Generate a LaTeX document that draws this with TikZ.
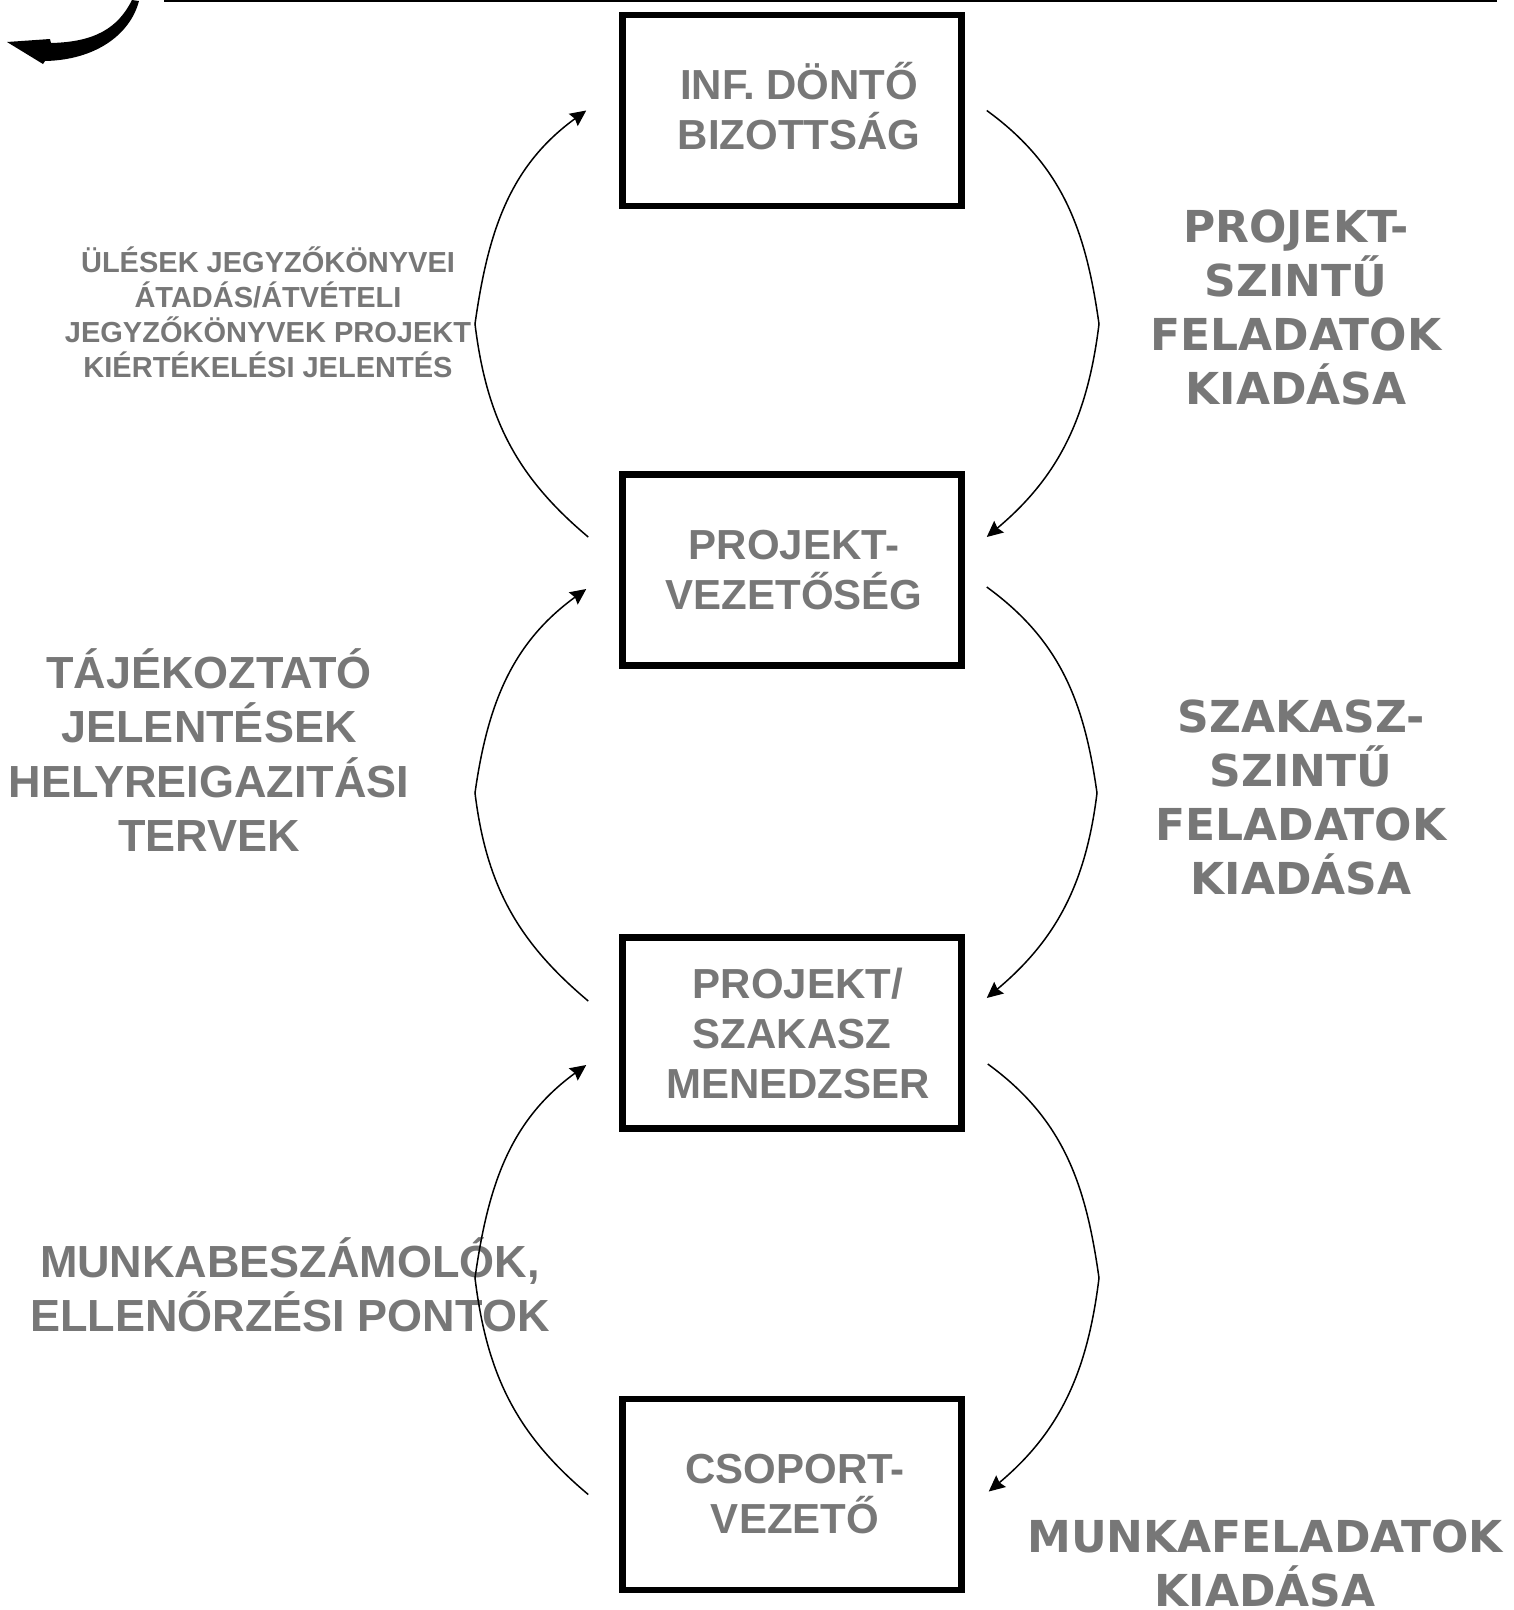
\documentclass[tikz,border=0pt]{standalone}
\usepackage{fontspec}
\usepackage{tikz}
\usetikzlibrary{arrows.meta}
\newfontfamily\boxfont{Liberation Sans}
\newfontfamily\widefont{DejaVu Sans}
\definecolor{labelgray}{HTML}{777777}
\tikzstyle{box}=[draw=black, line width=6.5pt, minimum width=339pt, minimum height=191pt, align=center, text=labelgray, font=\boxfont\bfseries\fontsize{42}{50}\selectfont]
\tikzstyle{leftlabel}=[align=center, text=labelgray, inner sep=0pt, font=\boxfont\bfseries\fontsize{45}{54.5}\selectfont]
\tikzstyle{smalllabel}=[align=center, text=labelgray, inner sep=0pt, font=\boxfont\bfseries\fontsize{29}{35}\selectfont]
\tikzstyle{rightlabel}=[align=center, text=labelgray, inner sep=0pt, font=\widefont\bfseries\fontsize{44}{54}\selectfont]
\tikzstyle{flow}=[draw=black, line width=1.5pt, ->, >={Stealth[length=16pt, width=15pt, inset=2pt]}]

\begin{document}
\begin{tikzpicture}[x=1pt, y=1pt]
	\useasboundingbox (0,0) rectangle (1514,-1610);
	\begin{scope}
		\node (inf) at (792, -110.5)[box] {\hspace*{14pt}INF. DÖNTŐ\\\hspace*{14pt}BIZOTTSÁG\\[-40pt]};
		\node (vez) at (792, -570)[box] {\hspace*{4pt}PROJEKT-\\\hspace*{4pt}VEZETŐSÉG};
		\node (men) at (792, -1033)[box] {\hspace*{12pt}PROJEKT/\\SZAKASZ\\\hspace*{12pt}MENEDZSER};
		\node (csop) at (792, -1494.5)[box] {\hspace*{6pt}CSOPORT-\\\hspace*{6pt}VEZETŐ};
		\node (jegyz) at (268, -312.5)[smalllabel] {ÜLÉSEK JEGYZŐKÖNYVEI\\ÁTADÁS/ÁTVÉTELI\\JEGYZŐKÖNYVEK PROJEKT\\KIÉRTÉKELÉSI JELENTÉS};
		\node (tajek) at (209, -750)[leftlabel] {TÁJÉKOZTATÓ\\JELENTÉSEK\\HELYREIGAZITÁSI\\TERVEK};
		\node (munkab) at (290, -1285)[leftlabel] {MUNKABESZÁMOLÓK,\\ELLENŐRZÉSI PONTOK};
		\node (projf) at (1296, -307)[rightlabel] {PROJEKT-\\SZINTŰ\\FELADATOK\\KIADÁSA};
		\node (szakf) at (1301, -797.5)[rightlabel] {SZAKASZ-\\SZINTŰ\\FELADATOK\\KIADÁSA};
		\node (munkaf) at (1265, -1563)[rightlabel] {MUNKAFELADATOK\\KIADÁSA};
	\end{scope}
	\begin{scope}
		% reports up, tasks down
		\path [flow] ([xshift=-31pt, yshift=33pt]vez.west) to[out=140, in=-83] (475,-324) to[out=82, in=-144] ([xshift=-33pt]inf.west);
		\path [flow] ([xshift=22pt]inf.east) to[out=-36, in=98] (1099,-324) to[out=-97, in=40] ([xshift=22pt, yshift=33pt]vez.east);
		\path [flow] ([xshift=-31pt, yshift=32pt]men.west) to[out=140, in=-83] (475,-793) to[out=82, in=-144] ([xshift=-33pt, yshift=-19pt]vez.west);
		\path [flow] ([xshift=22pt, yshift=-17pt]vez.east) to[out=-36, in=98] (1097,-793) to[out=-97, in=40] ([xshift=22pt, yshift=35pt]men.east);
		\path [flow] ([xshift=-31pt]csop.west) to[out=140, in=-83] (475,-1278) to[out=82, in=-144] ([xshift=-33pt, yshift=-32pt]men.west);
		\path [flow] ([xshift=23pt, yshift=-31pt]men.east) to[out=-36, in=98] (1099,-1278) to[out=-97, in=40] ([xshift=24pt, yshift=3pt]csop.east);
	\end{scope}
	\draw [line width=2pt] (164,-1) -- (1497,-1);
	\fill (132,0) .. controls (118,-28) and (95,-42) .. (51,-43) -- (50,-39) -- (7,-42) -- (43,-64) -- (45,-61) .. controls (95,-60) and (130,-35) .. (139,-1) -- cycle;
\end{tikzpicture}
\end{document}
